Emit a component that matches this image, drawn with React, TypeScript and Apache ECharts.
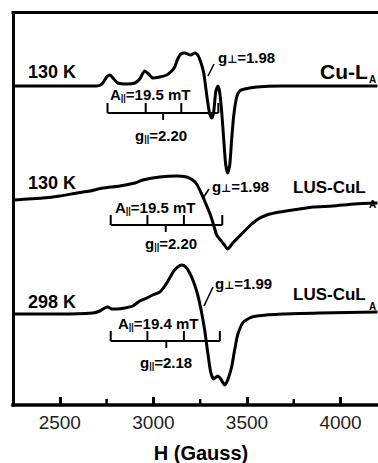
import React, { useEffect, useRef } from "react";
import * as echarts from "echarts";

const FONT = '"Liberation Sans", Arial, Helvetica, sans-serif';

// Axis ticks (Gauss)
const xMajorTicks = [2500, 3000, 3500, 4000];
const xMinorTicks = [2750, 3250, 3750];

// Annotation texts
const temperatures = ["130 K", "130 K", "298 K"];
const samples = ["Cu-L", "LUS-CuL", "LUS-CuL"];
const aParallel = ["19.5", "19.5", "19.4"];
const gParallel = ["2.20", "2.20", "2.18"];
const gPerp = ["1.98", "1.98", "1.99"];

// Spectra: [H (Gauss), intensity (arb. units, offset)]
const cuLA130K: number[][] = [
  [2249, 319], [2500, 319], [2698, 319], [2725, 321], [2751, 328], [2767, 330],
  [2789, 326], [2810, 322], [2858, 321], [2901, 322], [2927, 326], [2953, 334],
  [2975, 331], [2996, 327], [3034, 328], [3071, 330], [3098, 334], [3114, 338],
  [3130, 346], [3146, 351], [3167, 352], [3183, 351], [3199, 350], [3221, 352],
  [3237, 350], [3253, 343], [3269, 332], [3280, 317], [3290, 303], [3301, 291],
  [3312, 287], [3322, 293], [3333, 313], [3344, 319], [3354, 313], [3365, 293],
  [3376, 265], [3386, 241], [3397, 232], [3408, 240], [3418, 265], [3429, 289],
  [3445, 308], [3461, 314], [3488, 316], [3552, 318], [3675, 319], [3888, 319],
  [4197, 319],
];

const lusCuLA130K: number[][] = [
  [2249, 205], [2409, 207], [2500, 209], [2591, 212], [2660, 214], [2730, 217],
  [2821, 219], [2901, 222], [2943, 225], [3034, 228], [3125, 229], [3178, 228],
  [3210, 225], [3231, 221], [3253, 213], [3274, 204], [3301, 192], [3317, 183],
  [3338, 170], [3354, 166], [3376, 161], [3397, 156], [3424, 162], [3461, 169],
  [3514, 179], [3552, 185], [3605, 190], [3675, 193], [3781, 196], [3851, 198],
  [3958, 199], [4075, 201], [4197, 202],
];

const lusCuLA298K: number[][] = [
  [2249, 91], [2500, 91], [2676, 92], [2714, 94], [2740, 97], [2756, 98],
  [2778, 96], [2805, 96], [2848, 97], [2890, 99], [2927, 104], [2965, 107],
  [2996, 110], [3034, 113], [3061, 119], [3087, 127], [3109, 134], [3130, 138],
  [3151, 140], [3173, 138], [3194, 132], [3215, 123], [3237, 110], [3258, 92],
  [3274, 75], [3290, 53], [3306, 33], [3322, 26], [3344, 29], [3360, 26],
  [3381, 20], [3397, 25], [3418, 38], [3434, 55], [3450, 70], [3477, 82],
  [3514, 87], [3552, 89], [3690, 91], [3888, 92], [4197, 93],
];

// Hyperfine stick diagrams: [h1, h2, h3, h4, g|| position, level]
const hyperfineSticks: number[][] = [
  [2755, 2959, 3149, 3347, 3052, 292],
  [2772, 2968, 3163, 3368, 3066, 180],
  [2772, 2968, 3163, 3355, 3069, 64],
];

// Pixel layout of the annotations
const layout = [
  { temp: [28, 72], name: [320, 71], nameSize: 21, sub: [369, 79], a: [110, 94], gpar: [135, 135], gperp: [218, 57], leader: [214, 64, 208, 76] },
  { temp: [28, 183], name: [293, 187], nameSize: 17, sub: [369, 204], a: [115, 207], gpar: [145, 243], gperp: [212, 186], leader: [209, 189, 203, 198] },
  { temp: [28, 302], name: [293, 294], nameSize: 17, sub: [369, 306], a: [118, 323], gpar: [140, 362], gperp: [215, 283], leader: [213, 287, 204, 306] },
];

const rich = {
  b: { fontSize: 15, fontWeight: "bold", fontFamily: FONT, lineHeight: 16, fill: "#000" },
  s: { fontSize: 9, fontWeight: "bold", fontFamily: FONT, lineHeight: 2, verticalAlign: "bottom", fill: "#000" },
  p: { fontSize: 11, fontWeight: "bold", fontFamily: '"DejaVu Sans", sans-serif', lineHeight: 11, verticalAlign: "bottom", fill: "#000" },
};

function buildGraphic() {
  const g: any[] = [];
  layout.forEach((L, i) => {
    g.push({
      type: "text", x: L.temp[0], y: L.temp[1], silent: true,
      style: { text: temperatures[i], fontSize: 18, fontWeight: "bold", fontFamily: FONT, fill: "#000", align: "left", verticalAlign: "middle" },
    });
    g.push({
      type: "text", x: L.name[0], y: L.name[1], silent: true,
      style: { text: samples[i], fontSize: L.nameSize, fontWeight: "bold", fontFamily: FONT, fill: "#000", align: "left", verticalAlign: "middle" },
    });
    g.push({
      type: "text", x: L.sub[0], y: L.sub[1], silent: true,
      style: { text: "A", fontSize: 10, fontWeight: "bold", fontFamily: FONT, fill: "#000", align: "left", verticalAlign: "middle" },
    });
    g.push({
      type: "text", x: L.a[0], y: L.a[1], silent: true,
      style: { text: `{b|A}{s|||}{b|=${aParallel[i]} mT}`, rich, fill: "#000", align: "left", verticalAlign: "middle" },
    });
    g.push({
      type: "text", x: L.gpar[0], y: L.gpar[1], silent: true,
      style: { text: `{b|g}{s|||}{b|=${gParallel[i]}}`, rich, fill: "#000", align: "left", verticalAlign: "middle" },
    });
    g.push({
      type: "text", x: L.gperp[0], y: L.gperp[1], silent: true,
      style: { text: `{b|g}{p|⊥}{b|=${gPerp[i]}}`, rich, fill: "#000", align: "left", verticalAlign: "middle" },
    });
    g.push({
      type: "line", silent: true,
      shape: { x1: L.leader[0], y1: L.leader[1], x2: L.leader[2], y2: L.leader[3] },
      style: { stroke: "#000", lineWidth: 1.6 },
    });
  });
  g.push({
    type: "text", x: 201, y: 453, silent: true,
    style: { text: "H (Gauss)", fontSize: 20, fontWeight: "bold", fontFamily: FONT, fill: "#000", align: "center", verticalAlign: "middle" },
  });
  return g;
}

function stickRenderItem(params: any, api: any) {
  const hs = [api.value(0), api.value(1), api.value(2), api.value(3)];
  const gp = api.value(4);
  const lvl = api.value(5);
  const pts = hs.map((h: number) => api.coord([h, lvl]));
  const pg = api.coord([gp, lvl]);
  const style = { stroke: "#000", lineWidth: 2 };
  const children: any[] = [
    { type: "line", shape: { x1: pts[0][0], y1: pts[0][1], x2: pts[3][0], y2: pts[3][1] }, style },
  ];
  pts.forEach((p: number[]) => {
    children.push({ type: "line", shape: { x1: p[0], y1: p[1], x2: p[0], y2: p[1] - 10 }, style });
  });
  children.push({ type: "line", shape: { x1: pg[0], y1: pg[1], x2: pg[0], y2: pg[1] + 7 }, style });
  return { type: "group", children };
}

function minorTickRenderItem(params: any, api: any) {
  const p = api.coord([api.value(0), 0]);
  return {
    type: "line",
    shape: { x1: p[0], y1: p[1], x2: p[0], y2: p[1] - 6 },
    style: { stroke: "#000", lineWidth: 2.5 },
  };
}

const lineSeries = (data: number[][]) => ({
  type: "line",
  data,
  showSymbol: false,
  smooth: 0.2,
  silent: true,
  lineStyle: { color: "#000", width: 3 },
  z: 3,
});

const baseX = { type: "value", min: 2250, max: 4200, splitLine: { show: false } };

const option: any = {
  animation: false,
  backgroundColor: "#fff",
  grid: { left: 13, top: 12.5, width: 365.5, height: 392.5 },
  xAxis: [
    {
      ...baseX,
      position: "bottom",
      axisLine: { show: true, onZero: false, lineStyle: { color: "#000", width: 3.5, cap: "square" } },
      axisTick: { show: true, inside: true, length: 8, lineStyle: { color: "#000", width: 3 }, customValues: xMajorTicks },
      axisLabel: {
        show: true, customValues: xMajorTicks, fontSize: 19, color: "#222", fontFamily: FONT, margin: 8,
        formatter: (v: number) => String(v),
      },
    },
    {
      ...baseX,
      position: "top",
      axisLine: { show: true, onZero: false, lineStyle: { color: "#000", width: 3, cap: "square" } },
      axisTick: { show: false },
      axisLabel: { show: false },
    },
  ],
  yAxis: {
    type: "value", min: 0, max: 392.5,
    axisLine: { show: true, onZero: false, lineStyle: { color: "#000", width: 3, cap: "square" } },
    axisTick: { show: false }, axisLabel: { show: false }, splitLine: { show: false },
  },
  series: [
    lineSeries(cuLA130K),
    lineSeries(lusCuLA130K),
    lineSeries(lusCuLA298K),
    {
      type: "custom",
      data: hyperfineSticks,
      renderItem: stickRenderItem,
      clip: false,
      silent: true,
      encode: { x: [0, 1, 2, 3, 4], y: 5 },
      z: 2,
    },
    {
      type: "custom",
      data: xMinorTicks.map((v) => [v]),
      renderItem: minorTickRenderItem,
      clip: false,
      silent: true,
      encode: { x: 0 },
      z: 4,
    },
  ],
  graphic: buildGraphic(),
};

export default function App() {
  const ref = useRef<HTMLDivElement>(null);
  useEffect(() => {
    const chart = echarts.init(ref.current!, null, { renderer: "svg" });
    chart.setOption(option);
    return () => chart.dispose();
  }, []);
  return (
    <div
      ref={ref}
      style={{ position: "absolute", left: 0, top: 0, width: 378, height: 463 }}
    />
  );
}
